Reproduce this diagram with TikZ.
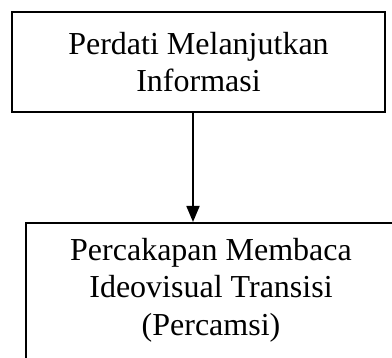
\documentclass[tikz,border=0pt]{standalone}
\usepackage{fontspec}
\setmainfont{Liberation Serif}
\usetikzlibrary{arrows.meta}
\tikzset{
  boxnode/.style={draw=black, line width=1.8pt, inner sep=0pt},
  txtnode/.style={align=center, inner sep=0pt, font=\fontsize{32}{37.5}\selectfont},
  flowarrow/.style={line width=1.8pt, -{Triangle[length=16pt,width=13pt]}}
}
\begin{document}
\begin{tikzpicture}[x=1pt,y=1pt]
\useasboundingbox (0,0) rectangle (392,-358);
\clip (0,0) rectangle (392,-358);
\node[boxnode, minimum width=373pt, minimum height=100pt] (top) at (198.5,-62) {};
\node[txtnode] (toptext) at (198.5,-62) {Perdati Melanjutkan\\Informasi};
\node[boxnode, minimum width=370pt, minimum height=170pt, anchor=north] (bot) at (211,-222) {};
\node[txtnode] (bottext) at (211,-290) {Percakapan Membaca\\Ideovisual Transisi\\(Percamsi)};
\coordinate (a) at (193,-112);
\draw[flowarrow] (a) -- (a |- bot.north);
\end{tikzpicture}
\end{document}
